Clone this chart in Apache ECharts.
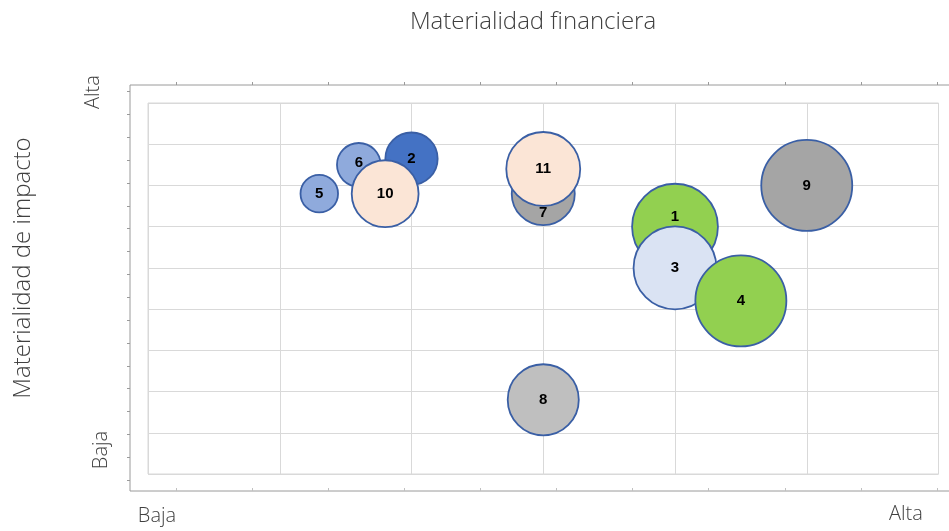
<!DOCTYPE html>
<html>
<head>
<meta charset="utf-8">
<script src="https://cdn.jsdelivr.net/npm/echarts@6/dist/echarts.min.js"></script>
<style>
html,body{margin:0;padding:0;background:#fff;}
#chart{width:949px;height:531px;}
</style>
</head>
<body>
<div id="chart"></div>
<script>
// ---- Data ----
var topicIds = ["1","2","3","4","5","6","7","8","9","10","11"];
var financialMateriality = [4.0, 2.0, 4.0, 4.5, 1.3, 1.6, 3.0, 3.0, 5.0, 1.8, 3.0];
var impactMateriality   = [6.0, 7.65, 5.0, 4.2, 6.8, 7.5, 6.8, 1.8, 7.0, 6.8, 7.4];
var bubbleWeight        = [89, 33, 83, 100, 17, 23, 48, 61, 100, 54, 66];
var levelLabels = ["Baja", "Alta"];
var chartTitle = "Materialidad financiera";
var yTitle = "Materialidad de impacto";

// ---- Styles ----
var fillColors = {
  "1": "#92D050", "2": "#4472C4", "3": "#DAE3F3", "4": "#92D050",
  "5": "#8FAADC", "6": "#8FAADC", "7": "#A5A5A5", "8": "#BFBFBF",
  "9": "#A5A5A5", "10": "#FBE5D6", "11": "#FBE5D6"
};
var labelShift = { "1": [0, -10], "7": [0, 19], "6": [0, -2] };
var textColor = "#404040";
var lightFont = "'Open Sans', 'Lato', sans-serif";

var seriesData = topicIds.map(function (id, i) {
  return {
    name: id,
    value: [financialMateriality[i], impactMateriality[i], bubbleWeight[i]],
    itemStyle: { color: fillColors[id] },
    label: { offset: labelShift[id] || [0, 0] }
  };
});

var chart = echarts.init(document.getElementById('chart'), null, { renderer: 'canvas' });

var tickColor = '#9a9a9a';
var option = {
  animation: false,
  backgroundColor: '#ffffff',
  grid: [
    { // inner plot
      left: 148, top: 103, right: 10.5, bottom: 57,
      show: true, borderColor: '#d9d9d9', borderWidth: 1,
      containLabel: false, outerBoundsMode: 'none'
    },
    { // tick grid
      left: 176, top: 91.7, right: 12, bottom: 51,
      containLabel: false, outerBoundsMode: 'none'
    },
    { // outer frame
      left: 130, top: 85, right: -20, bottom: 40,
      show: true, borderColor: '#9a9a9a', borderWidth: 1, z: 0,
      containLabel: false, outerBoundsMode: 'none'
    }
  ],
  xAxis: [
    {
      type: 'value', gridIndex: 0, min: 0, max: 6, interval: 1,
      axisLine: { show: false, onZero: false }, axisTick: { show: false }, axisLabel: { show: false },
      splitLine: { show: true, lineStyle: { color: '#d9d9d9', width: 1 } }
    },
    {
      type: 'value', gridIndex: 1, position: 'top', offset: 6.7,
      min: 0, max: 10, interval: 1,
      axisLine: { show: false, onZero: false },
      axisTick: { show: true, inside: false, length: 3, lineStyle: { color: tickColor } },
      axisLabel: { show: false }, splitLine: { show: false }
    },
    {
      type: 'value', gridIndex: 1, position: 'bottom', offset: 11,
      min: 0, max: 10, interval: 1,
      axisLine: { show: false, onZero: false },
      axisTick: { show: true, inside: true, length: 3, lineStyle: { color: '#c0c0c0' } },
      axisLabel: { show: false }, splitLine: { show: false }
    },
    {
      type: 'value', gridIndex: 2, show: false, min: 0, max: 1,
      axisLine: { onZero: false }
    }
  ],
  yAxis: [
    {
      type: 'value', gridIndex: 0, min: 0, max: 9, interval: 1,
      axisLine: { show: false, onZero: false }, axisTick: { show: false }, axisLabel: { show: false },
      splitLine: { show: true, lineStyle: { color: '#d9d9d9', width: 1 } }
    },
    {
      type: 'value', gridIndex: 1, position: 'left', offset: 46,
      min: 0, max: 17, interval: 1,
      axisLine: { show: false, onZero: false },
      axisTick: { show: true, inside: false, length: 3, lineStyle: { color: tickColor } },
      axisLabel: { show: false }, splitLine: { show: false }
    },
    {
      type: 'value', gridIndex: 2, show: false, min: 0, max: 1,
      axisLine: { onZero: false }
    }
  ],
  series: [
    {
      type: 'scatter',
      xAxisIndex: 0, yAxisIndex: 0,
      data: seriesData,
      symbolSize: function (val) { return 91 * Math.sqrt(val[2] / 100); },
      itemStyle: { borderColor: '#3A5FA5', borderWidth: 1.8, opacity: 1 },
      label: {
        show: true, position: 'inside',
        formatter: function (p) { return p.name; },
        color: '#000000', fontWeight: 'bold', fontSize: 15,
        fontFamily: "'Liberation Sans', Arial, sans-serif"
      },
      emphasis: { disabled: true },
      z: 3
    }
  ],
  graphic: [
    {
      type: 'text', x: 533, y: 22,
      style: { text: chartTitle, fill: textColor, font: "300 24px " + lightFont,
               textAlign: 'center', textVerticalAlign: 'middle' }
    },
    {
      type: 'text', x: 23, y: 268, rotation: Math.PI / 2,
      style: { text: yTitle, fill: textColor, font: "300 24px " + lightFont,
               textAlign: 'center', textVerticalAlign: 'middle' }
    },
    {
      type: 'text', x: 93, y: 92, rotation: Math.PI / 2,
      style: { text: levelLabels[1], fill: textColor, font: "300 20px " + lightFont,
               textAlign: 'center', textVerticalAlign: 'middle' }
    },
    {
      type: 'text', x: 101, y: 450, rotation: Math.PI / 2,
      style: { text: levelLabels[0], fill: textColor, font: "300 20px " + lightFont,
               textAlign: 'center', textVerticalAlign: 'middle' }
    },
    {
      type: 'text', x: 157, y: 516,
      style: { text: levelLabels[0], fill: textColor, font: "300 20px " + lightFont,
               textAlign: 'center', textVerticalAlign: 'middle' }
    },
    {
      type: 'text', x: 906, y: 514,
      style: { text: levelLabels[1], fill: textColor, font: "300 20px " + lightFont,
               textAlign: 'center', textVerticalAlign: 'middle' }
    }
  ]
};
chart.setOption(option);
</script>
</body>
</html>
